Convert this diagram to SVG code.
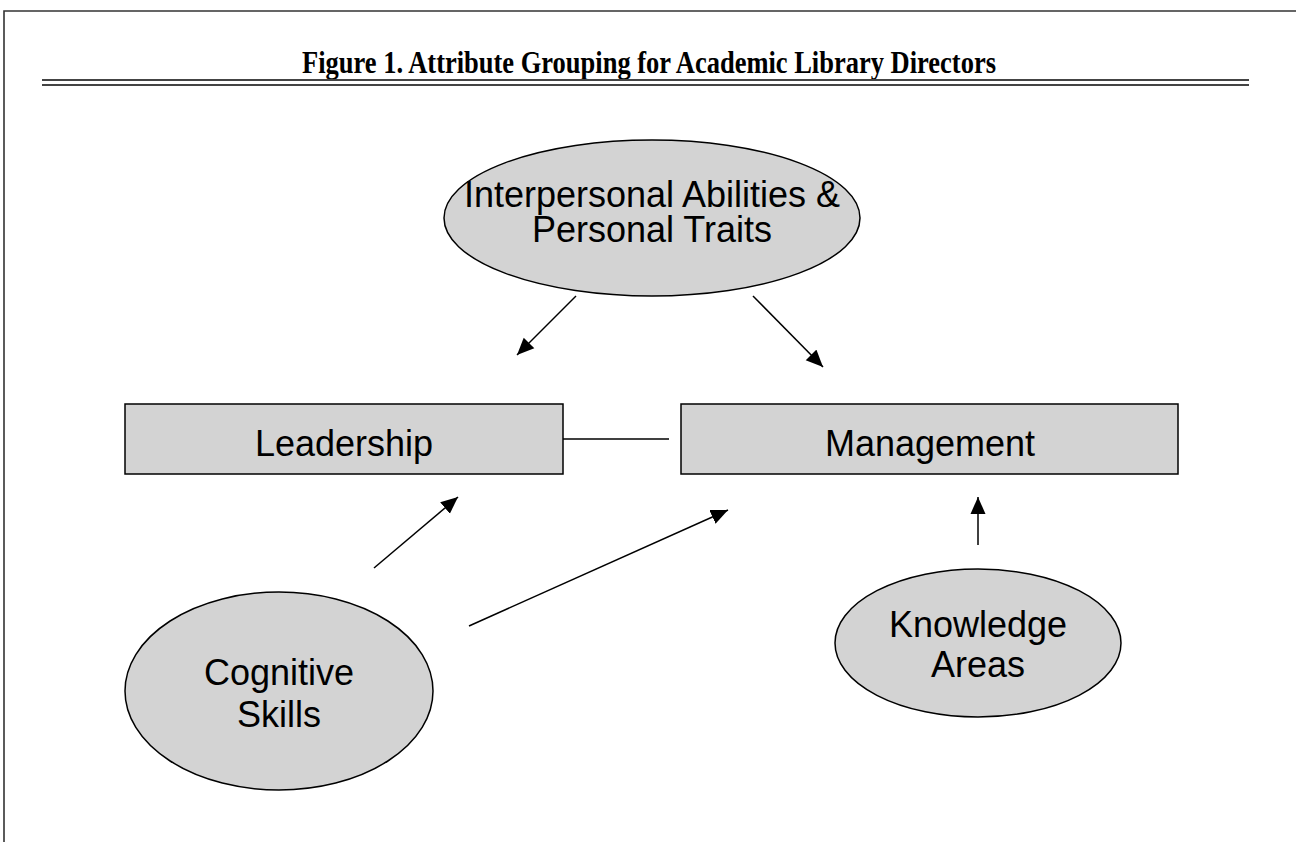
<svg xmlns="http://www.w3.org/2000/svg" width="1296" height="842" viewBox="0 0 1296 842">
  <style>
    .frame { stroke: #333; stroke-width: 1.6; fill: none; }
    .rule { stroke: #444; stroke-width: 2; }
    .shape { fill: #d3d3d3; stroke: #000; stroke-width: 1.5; }
    .label { font-family: "Liberation Sans", Arial, sans-serif; font-size: 36px; fill: #000; text-anchor: middle; }
    .title { font-family: "Liberation Serif", "Times New Roman", serif; font-weight: bold; font-size: 31px; fill: #000; text-anchor: middle; }
    .link { stroke: #000; stroke-width: 1.5; fill: none; }
  </style>
  <defs>
    <marker id="arrow" markerUnits="userSpaceOnUse" markerWidth="18" markerHeight="16" viewBox="0 0 18 16" refX="17" refY="8" orient="auto">
      <path d="M0,0.5 L17,8 L0,15.5 Z" fill="#000"/>
    </marker>
  </defs>

  <rect width="1296" height="842" fill="#fff"/>

  <!-- page frame -->
  <path class="frame" d="M4,842 V11 H1296"/>

  <!-- heading -->
  <g id="heading">
    <text class="title" x="649" y="73" textLength="694" lengthAdjust="spacingAndGlyphs">Figure 1. Attribute Grouping for Academic Library Directors</text>
    <line class="rule" x1="42" y1="80" x2="1249" y2="80"/>
    <line class="rule" x1="42" y1="85" x2="1249" y2="85"/>
  </g>

  <!-- connectors -->
  <g id="connectors">
    <line class="link" x1="576" y1="296" x2="517" y2="355" marker-end="url(#arrow)"/>
    <line class="link" x1="753" y1="296" x2="823" y2="367" marker-end="url(#arrow)"/>
    <line class="link" x1="563" y1="439" x2="669" y2="439"/>
    <line class="link" x1="374" y1="568" x2="458" y2="497" marker-end="url(#arrow)"/>
    <line class="link" x1="469" y1="626" x2="728" y2="510" marker-end="url(#arrow)"/>
    <line class="link" x1="978" y1="545" x2="978" y2="497" marker-end="url(#arrow)"/>
  </g>

  <g id="interpersonal">
    <ellipse class="shape" cx="652" cy="218" rx="208" ry="78"/>
    <text class="label" x="652" y="207">Interpersonal Abilities &amp;</text>
    <text class="label" x="652" y="242">Personal Traits</text>
  </g>

  <g id="leadership">
    <rect class="shape" x="125" y="404" width="438" height="70"/>
    <text class="label" x="344" y="456">Leadership</text>
  </g>

  <g id="management">
    <rect class="shape" x="681" y="404" width="497" height="70"/>
    <text class="label" x="930" y="456">Management</text>
  </g>

  <g id="cognitive">
    <ellipse class="shape" cx="279" cy="691" rx="154" ry="99"/>
    <text class="label" x="279" y="685">Cognitive</text>
    <text class="label" x="279" y="727">Skills</text>
  </g>

  <g id="knowledge">
    <ellipse class="shape" cx="978" cy="643" rx="143" ry="74"/>
    <text class="label" x="978" y="637">Knowledge</text>
    <text class="label" x="978" y="677">Areas</text>
  </g>
</svg>
